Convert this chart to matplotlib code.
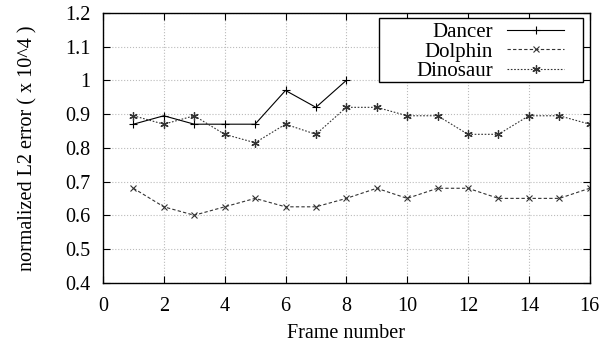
import matplotlib
matplotlib.use('agg')
from matplotlib import pyplot as plt, rcParams
from matplotlib.patches import Rectangle
from matplotlib.transforms import IdentityTransform

frames_dancer = [1, 2, 3, 4, 5, 6, 7, 8]
dancer = [0.87, 0.895, 0.87, 0.87, 0.87, 0.97, 0.92, 1.0]

frames = list(range(1, 17))
dolphin = [0.68, 0.625, 0.60, 0.625, 0.65, 0.625, 0.625, 0.65,
           0.68, 0.65, 0.68, 0.68, 0.65, 0.65, 0.65, 0.68]
dinosaur = [0.895, 0.87, 0.895, 0.84, 0.815, 0.87, 0.84, 0.92,
            0.92, 0.895, 0.895, 0.84, 0.84, 0.895, 0.895, 0.87]

x_ticks = list(range(0, 17, 2))
y_ticks = [0.4, 0.5, 0.6, 0.7, 0.8, 0.9, 1.0, 1.1, 1.2]
y_labels = ['0.4', '0.5', '0.6', '0.7', '0.8', '0.9', '1', '1.1', '1.2']

rcParams['font.family'] = ['Liberation Serif', 'DejaVu Serif']
rcParams['font.size'] = 14.5

fig, ax = plt.subplots(figsize=(6.13, 3.49), dpi=100)
fig.subplots_adjust(left=0.168, right=0.962, top=0.963, bottom=0.19)

ax.plot(frames_dancer, dancer, color='black', lw=0.8, linestyle='-',
        marker='+', ms=6, mew=0.8, label='Dancer')
ax.plot(frames, dolphin, color='#333333', lw=0.8, linestyle=(0, (3, 2)),
        marker='x', ms=5, mew=0.8, label='Dolphin')
ax.plot(frames, dinosaur, color='#333333', lw=0.8, linestyle=(0, (1.5, 1.5)),
        marker=(6, 2, 0), ms=6, mew=0.9, label='Dinosaur')

ax.set_xlim(0, 16)
ax.set_ylim(0.4, 1.2)
ax.set_xticks(x_ticks)
ax.set_yticks(y_ticks)
ax.set_yticklabels(y_labels)
ax.tick_params(direction='in', top=True, right=True, length=5, width=0.8,
               labelsize=14.5)
ax.tick_params(axis='x', pad=10)
ax.tick_params(axis='y', pad=9)
ax.grid(color='#bbbbbb', linestyle=':', linewidth=0.8)
for s in ax.spines.values():
    s.set_linewidth(1.0)

ax.set_xlabel('Frame number', size=14.5, labelpad=6)
ax.set_ylabel('normalized L2 error ( x 10^4 )', size=14.5, labelpad=20)

# legend content, frame drawn separately (wide left margin like gnuplot)
leg = ax.legend(loc='upper right', bbox_to_anchor=(0.9465, 0.965),
                markerfirst=False, frameon=False, fontsize=15, numpoints=1,
                handlelength=2.7, borderaxespad=0, labelspacing=0.0,
                handletextpad=0.7, borderpad=0)
for t in leg.get_texts():
    t.set_ha('right')
leg._legend_box.align = 'right'

fig.canvas.draw()
bb = leg.get_window_extent()
frame = Rectangle((bb.x0 - 37, bb.y0 - 1), bb.width + 56, bb.height + 5,
                  transform=IdentityTransform(), facecolor='white',
                  edgecolor='black', lw=1.0, zorder=4)
ax.add_artist(frame)
leg.set_zorder(5)

fig.savefig('out.png', dpi=100)
